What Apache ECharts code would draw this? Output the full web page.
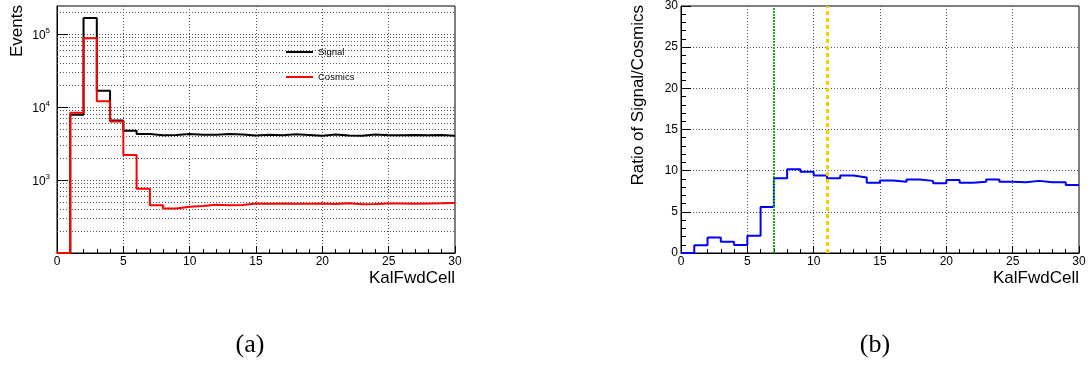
<!DOCTYPE html>
<html><head><meta charset="utf-8">
<script src="https://cdn.jsdelivr.net/npm/echarts@6/dist/echarts.min.js"></script>
<style>html,body{margin:0;padding:0;background:#fff}#c{width:1092px;height:365px}</style>
</head><body><div id="c"></div>
<script>
// ---- data (bin lower edges, KalFwdCell) ----
const bins = [0,1,2,3,4,5,6,7,8,9,10,11,12,13,14,15,16,17,18,19,20,21,22,23,24,25,26,27,28,29];
const signal = [0,7800,164000,16600,6500,4700,4250,4100,4120,4240,4140,4160,4250,4170,4050,4160,4100,4215,4135,4030,4170,4070,4030,4200,4100,4085,4135,4085,4110,4010];
const cosmics = [0,8300,87000,11900,6300,2200,755,450,405,430,440,458,452,455,475,473,474,472,472,475,470,478,466,470,475,475,472,475,478,485];
const ratio = [0,0.95,1.87,1.38,0.98,2.11,5.6,9.09,10.18,9.86,9.41,9.09,9.41,9.17,8.52,8.8,8.65,8.93,8.76,8.48,8.88,8.52,8.64,8.93,8.64,8.6,8.76,8.6,8.6,8.27];
const cuts = [7, 11];
const cutNames = ['cut A', 'cut B'];
const xTickLabels = ['0','5','10','15','20','25','30'];
const ratioTickLabels = ['0','5','10','15','20','25','30'];
const seriesNames = ['Signal', 'Cosmics'];

const xMin = 0, xMax = 30, xStep = 5;
const logMin = 100, logMax = 240000;
const FONT = 'Liberation Sans';

function stepData(vals, floor) {
  const d = bins.map((b, i) => [b, floor != null ? Math.max(vals[i], floor) : vals[i]]);
  d.push([bins[bins.length - 1] + 1, d[d.length - 1][1]]);
  return d;
}
// minor log grid lines at 2..9 x 10^n inside the range
const logGrid = [];
for (let dec = 100; dec < logMax; dec *= 10) {
  for (let k = 2; k <= 9; k++) { const v = k * dec; if (v > logMin && v < logMax) logGrid.push(v); }
}

const gridLine = { color: '#555', type: [1, 2], width: 1 };
function xAxisCfg(gi) {
  return {
    gridIndex: gi, type: 'value', min: xMin, max: xMax, interval: xStep,
    axisLine: { show: true, lineStyle: { color: '#000', width: 1 } },
    axisTick: { inside: true, length: 7, lineStyle: { color: '#000' } },
    minorTick: { show: true, splitNumber: 5, length: 4, lineStyle: { color: '#000' } },
    axisLabel: { color: '#000', fontSize: 12, fontFamily: FONT, margin: 3,
      formatter: v => xTickLabels[Math.round((v - xMin) / xStep)] },
    splitLine: { show: true, showMinLine: false, showMaxLine: false, lineStyle: gridLine },
    name: 'KalFwdCell', nameLocation: 'end', nameGap: 0,
    nameTextStyle: { fontSize: 17, fontFamily: FONT, color: '#000', align: 'right', verticalAlign: 'top', padding: [17, 0, 0, 0] }
  };
}

const chart = echarts.init(document.getElementById('c'), null, { renderer: 'canvas' });
chart.setOption({
  animation: false,
  backgroundColor: '#fff',
  grid: [
    { left: 57, top: 6, width: 398, height: 247, show: true, borderColor: '#000', borderWidth: 1, backgroundColor: 'transparent' },
    { left: 681, top: 6, width: 398, height: 247, show: true, borderColor: '#000', borderWidth: 1, backgroundColor: 'transparent' }
  ],
  legend: {
    data: seriesNames, orient: 'vertical', left: 281, top: 42,
    itemWidth: 27, itemHeight: 2, itemGap: 15, icon: 'rect',
    textStyle: { fontSize: 9.5, color: '#000', fontFamily: FONT }
  },
  xAxis: [xAxisCfg(0), xAxisCfg(1)],
  yAxis: [
    {
      gridIndex: 0, type: 'log', logBase: 10, min: logMin, max: logMax,
      axisLine: { show: true, lineStyle: { color: '#000' } },
      axisTick: { inside: true, length: 11, lineStyle: { color: '#000' } },
      axisLabel: {
        showMinLabel: false, showMaxLabel: false, margin: 7, color: '#000', fontFamily: FONT,
        formatter: v => '{b|10}{s|' + Math.round(Math.log10(v)) + '}',
        rich: { b: { fontSize: 12, fontFamily: FONT, color: '#000', padding: [4, 0, 0, 0] },
                s: { fontSize: 8, fontFamily: FONT, color: '#000', padding: [0, 0, 6, 0] } }
      },
      splitLine: { show: true, showMinLine: false, showMaxLine: false, lineStyle: gridLine }
    },
    {
      gridIndex: 1, type: 'value', min: 0, max: 30, interval: 5,
      axisLine: { show: true, lineStyle: { color: '#000' } },
      axisTick: { inside: true, length: 10, lineStyle: { color: '#000' } },
      minorTick: { show: true, splitNumber: 5, length: 5, lineStyle: { color: '#000' } },
      axisLabel: { color: '#000', fontSize: 12, fontFamily: FONT, margin: 3,
        formatter: v => ratioTickLabels[Math.round(v / 5)] },
      splitLine: { show: true, showMinLine: false, showMaxLine: false, lineStyle: gridLine }
    }
  ],
  graphic: [
    { type: 'text', x: 17, y: 5, rotation: Math.PI / 2,
      style: { text: 'Events', font: '17px "Liberation Sans"', fill: '#000', align: 'right', verticalAlign: 'middle', textAlign: 'right', textVerticalAlign: 'middle' } },
    { type: 'text', x: 638, y: 5, rotation: Math.PI / 2,
      style: { text: 'Ratio of Signal/Cosmics', font: '17px "Liberation Sans"', fill: '#000', align: 'right', verticalAlign: 'middle', textAlign: 'right', textVerticalAlign: 'middle' } },
    { type: 'text', x: 250, y: 345,
      style: { text: '(a)', font: '26px "Liberation Serif"', fill: '#000', align: 'center', verticalAlign: 'middle', textAlign: 'center', textVerticalAlign: 'middle' } },
    { type: 'text', x: 875, y: 345,
      style: { text: '(b)', font: '26px "Liberation Serif"', fill: '#000', align: 'center', verticalAlign: 'middle', textAlign: 'center', textVerticalAlign: 'middle' } }
  ],
  series: [
    {
      name: seriesNames[0], type: 'line', xAxisIndex: 0, yAxisIndex: 0, step: 'end',
      data: stepData(signal, logMin), symbol: 'none', z: 3,
      lineStyle: { color: '#000', width: 2 }, itemStyle: { color: '#000' },
      markLine: { silent: true, symbol: 'none', label: { show: false }, lineStyle: gridLine, z: 1,
        data: logGrid.map(v => ({ yAxis: v })) }
    },
    {
      name: seriesNames[1], type: 'line', xAxisIndex: 0, yAxisIndex: 0, step: 'end',
      data: stepData(cosmics, logMin), symbol: 'none', z: 4,
      lineStyle: { color: '#ff0000', width: 2 }, itemStyle: { color: '#ff0000' }
    },
    {
      name: 'Ratio', type: 'line', xAxisIndex: 1, yAxisIndex: 1, step: 'end',
      data: stepData(ratio, null), symbol: 'none', z: 3,
      lineStyle: { color: '#0000ff', width: 2 }, itemStyle: { color: '#0000ff' },
      markLine: { silent: true, symbol: 'none', label: { show: false },
        data: [
          { name: cutNames[0], xAxis: cuts[0], lineStyle: { color: '#22aa22', type: [2, 1], width: 2 } },
          { name: cutNames[1], xAxis: cuts[1], lineStyle: { color: '#ffcc00', type: [4, 3], width: 3 } }
        ] }
    }
  ]
});
</script></body></html>
